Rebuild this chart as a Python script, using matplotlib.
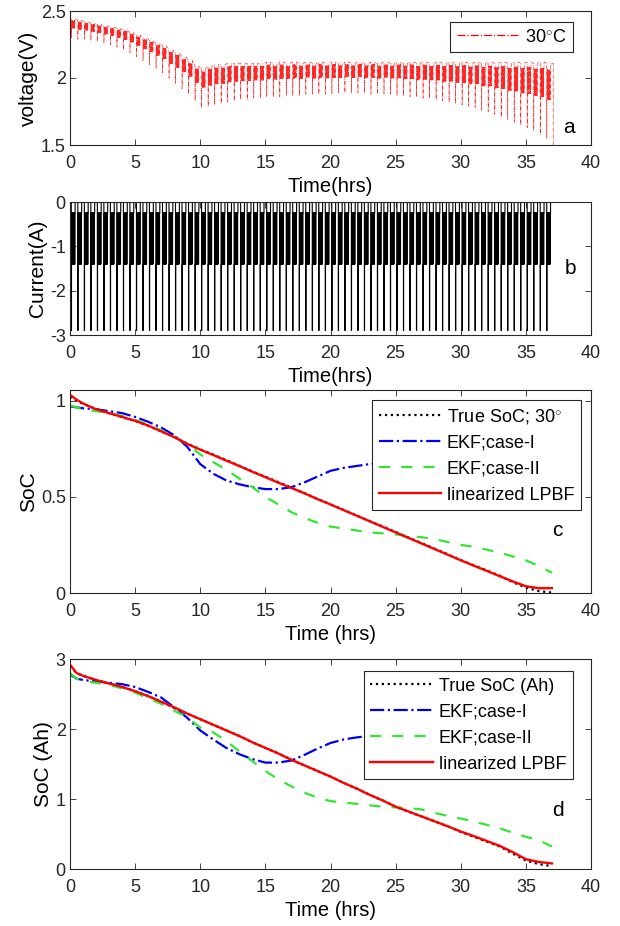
import numpy as np
import matplotlib
matplotlib.use("Agg")
import matplotlib.pyplot as plt
from matplotlib.lines import Line2D

plt.rcParams['font.family'] = ['Liberation Sans', 'DejaVu Sans']
plt.rcParams['mathtext.fontset'] = 'custom'
plt.rcParams['mathtext.rm'] = 'Liberation Sans'
plt.rcParams['axes.unicode_minus'] = False

# ---------------- data ----------------
# pulse discharge test: start time of each pulse (hrs)
pulse_start_hrs = [0.1, 0.6, 1.1, 1.6, 2.1, 2.6, 3.1, 3.6, 4.1, 4.6,
                   5.1, 5.6, 6.1, 6.6, 7.1, 7.6, 8.1, 8.6, 9.1, 9.6,
                   10.1, 10.6, 11.1, 11.6, 12.1, 12.6, 13.1, 13.6, 14.1, 14.6,
                   15.1, 15.6, 16.1, 16.6, 17.1, 17.6, 18.1, 18.6, 19.1, 19.6,
                   20.1, 20.6, 21.1, 21.6, 22.1, 22.6, 23.1, 23.6, 24.1, 24.6,
                   25.1, 25.6, 26.1, 26.6, 27.1, 27.6, 28.1, 28.6, 29.1, 29.6,
                   30.1, 30.6, 31.1, 31.6, 32.1, 32.6, 33.1, 33.6, 34.1, 34.6,
                   35.1, 35.6, 36.1, 36.6]
# rest (open-circuit) voltage before each pulse (V)
rest_voltage = [2.44, 2.43, 2.42, 2.41, 2.40, 2.39, 2.38, 2.37, 2.36, 2.34,
                2.32, 2.30, 2.28, 2.26, 2.24, 2.21, 2.19, 2.16, 2.13, 2.09,
                2.07, 2.09, 2.10, 2.10, 2.11, 2.11, 2.11, 2.11, 2.11, 2.11,
                2.12, 2.11, 2.12, 2.11, 2.12, 2.11, 2.12, 2.11, 2.12, 2.11,
                2.12, 2.11, 2.12, 2.11, 2.12, 2.11, 2.12, 2.11, 2.12, 2.11,
                2.12, 2.11, 2.12, 2.11, 2.12, 2.11, 2.12, 2.11, 2.12, 2.11,
                2.12, 2.11, 2.12, 2.11, 2.12, 2.11, 2.12, 2.11, 2.12, 2.11,
                2.12, 2.11, 2.12, 2.11]
# minimum voltage at the peak current of each pulse (V)
pulse_min_voltage = [2.30, 2.29, 2.29, 2.28, 2.27, 2.26, 2.25, 2.23, 2.21, 2.19,
                     2.16, 2.13, 2.10, 2.07, 2.04, 2.00, 1.96, 1.92, 1.88, 1.83,
                     1.78, 1.79, 1.80, 1.81, 1.82, 1.83, 1.84, 1.84, 1.85, 1.85,
                     1.86, 1.86, 1.86, 1.87, 1.87, 1.87, 1.88, 1.88, 1.88, 1.88,
                     1.88, 1.89, 1.89, 1.89, 1.89, 1.89, 1.88, 1.88, 1.88, 1.88,
                     1.87, 1.87, 1.86, 1.86, 1.85, 1.85, 1.84, 1.83, 1.82, 1.81,
                     1.80, 1.79, 1.78, 1.76, 1.75, 1.73, 1.71, 1.69, 1.67, 1.65,
                     1.63, 1.61, 1.58, 1.55]
end_time_hrs = 37.1
end_voltage = 1.5
# current levels of a pulse (A)
current_rest = 0.0
current_peak = -2.9
current_high = -1.4
current_low = -0.25

# SoC estimates, panel c (fraction)
soc_t = [0, 0.5, 1, 2, 3, 4, 5, 6, 7, 8, 9, 10, 11, 12, 13, 14, 15, 16, 17, 18,
         19, 20, 21, 22, 23, 24, 25, 26, 27, 28, 29, 30, 31, 32, 33, 34, 35, 36, 37]
soc_true = [1.02, 1.00, 0.983, 0.956, 0.934, 0.914, 0.894, 0.869, 0.841, 0.811, 0.777,
            0.746, 0.719, 0.691, 0.661, 0.632, 0.604, 0.576, 0.547, 0.519, 0.489, 0.461,
            0.432, 0.403, 0.374, 0.346, 0.317, 0.288, 0.259, 0.23, 0.201, 0.171,
            0.144, 0.117, 0.09, 0.056, 0.028, 0.01, 0.002]
soc_ekf1 = [0.97, 0.965, 0.96, 0.955, 0.945, 0.935, 0.915, 0.89, 0.86, 0.82, 0.76,
            0.67, 0.62, 0.585, 0.565, 0.55, 0.54, 0.54, 0.55, 0.575, 0.605, 0.635,
            0.65, 0.66, 0.67, 0.675, 0.68, 0.68, 0.68, 0.68, 0.68, 0.68,
            0.68, 0.68, 0.68, 0.68, 0.68, 0.68, 0.68]
soc_ekf2 = [0.975, 0.965, 0.955, 0.945, 0.935, 0.92, 0.9, 0.875, 0.845, 0.81, 0.775,
            0.72, 0.68, 0.64, 0.595, 0.55, 0.50, 0.46, 0.42, 0.39, 0.365, 0.345,
            0.335, 0.325, 0.315, 0.31, 0.305, 0.295, 0.29, 0.28, 0.265, 0.25,
            0.24, 0.225, 0.21, 0.19, 0.17, 0.14, 0.105]
soc_lpbf = [1.03, 1.005, 0.985, 0.955, 0.935, 0.915, 0.895, 0.87, 0.84, 0.81, 0.775,
            0.745, 0.717, 0.688, 0.66, 0.63, 0.602, 0.573, 0.546, 0.518, 0.488, 0.46,
            0.431, 0.402, 0.373, 0.344, 0.315, 0.286, 0.257, 0.228, 0.199, 0.17,
            0.142, 0.115, 0.087, 0.06, 0.035, 0.025, 0.025]

# SoC estimates, panel d (Ah)
ah_true = [2.9, 2.8, 2.76, 2.7, 2.65, 2.6, 2.54, 2.47, 2.39, 2.3, 2.22,
           2.14, 2.06, 1.98, 1.9, 1.81, 1.73, 1.65, 1.56, 1.48, 1.4, 1.32,
           1.23, 1.15, 1.06, 0.98, 0.89, 0.82, 0.75, 0.68, 0.61, 0.53,
           0.46, 0.39, 0.32, 0.22, 0.12, 0.07, 0.04]
ah_ekf1 = [2.78, 2.72, 2.7, 2.68, 2.66, 2.64, 2.6, 2.53, 2.45, 2.31, 2.16,
           1.98, 1.85, 1.73, 1.64, 1.57, 1.52, 1.52, 1.55, 1.63, 1.72, 1.8,
           1.85, 1.88, 1.9, 1.91, 1.92, 1.93, 1.93, 1.94, 1.94, 1.94,
           1.95, 1.95, 1.95, 1.95, 1.95, 1.95, 1.95]
ah_ekf2 = [2.8, 2.72, 2.69, 2.66, 2.63, 2.58, 2.52, 2.44, 2.36, 2.26, 2.17,
           2.02, 1.95, 1.83, 1.68, 1.54, 1.4, 1.28, 1.18, 1.09, 1.02, 0.97,
           0.95, 0.93, 0.91, 0.89, 0.88, 0.87, 0.85, 0.8, 0.76, 0.72,
           0.68, 0.63, 0.58, 0.52, 0.46, 0.41, 0.32]
ah_lpbf = [2.92, 2.8, 2.76, 2.7, 2.65, 2.6, 2.54, 2.47, 2.39, 2.31, 2.22,
           2.14, 2.06, 1.98, 1.9, 1.81, 1.73, 1.65, 1.56, 1.48, 1.4, 1.32,
           1.23, 1.15, 1.06, 0.98, 0.89, 0.82, 0.75, 0.68, 0.61, 0.535,
           0.47, 0.4, 0.33, 0.24, 0.14, 0.1, 0.08]

# ---------------- build pulse waveforms ----------------
spike_len = 0.015
osc_len = 0.02
n_osc = 14
t_cur, i_cur, v_out = [0.0], [current_rest], [rest_voltage[0]]
for t0, vr, vmin in zip(pulse_start_hrs, rest_voltage, pulse_min_voltage):
    R = (vr - vmin) / (-current_peak)
    seq = [(t0, current_rest), (t0, current_peak), (t0 + spike_len, current_peak)]
    tt = t0 + spike_len
    for k in range(n_osc):
        lvl = current_high if k % 2 == 0 else current_low
        seq.append((tt, lvl))
        tt += osc_len
        seq.append((tt, lvl))
    seq.append((tt, current_rest))
    for t, c in seq:
        t_cur.append(t)
        i_cur.append(c)
        v_out.append(vr + R * c)
t_cur.append(end_time_hrs)
i_cur.append(current_rest)
v_out.append(rest_voltage[-1])
t_v = t_cur + [end_time_hrs]
v_v = v_out + [end_voltage]

# ---------------- figure ----------------
fig = plt.figure(figsize=(6.2, 9.26), dpi=100)
L, W = 70 / 620, 521 / 620
def pos(top, bot):
    return [L, 1 - bot / 926, W, (bot - top) / 926]
axa = fig.add_axes(pos(11, 145))
axb = fig.add_axes(pos(202, 335))
axc = fig.add_axes(pos(390, 593))
axd = fig.add_axes(pos(659, 869))

FS_T = 13
FS_X = 14.5
FS_Y = 15
FS_LEG = 13
for ax in (axa, axb, axc, axd):
    ax.set_xlim(0, 40)
    ax.set_xticks(range(0, 41, 5))
    ax.tick_params(direction='in', top=True, right=True, length=4, width=0.6,
                   labelsize=FS_T, colors='#262626')
    ax.tick_params(axis='x', pad=7)
    ax.tick_params(axis='y', pad=3)
    for s in ax.spines.values():
        s.set_linewidth(0.8)
        s.set_color('#262626')

red = '#ff0000'
blue = '#0000ee'
green = '#33e633'

def make_legend(ax, handles, labels, anchor):
    leg = ax.legend(handles, labels, loc='upper right', bbox_to_anchor=anchor,
                    borderaxespad=0, fontsize=FS_LEG, handlelength=3.45,
                    handletextpad=0.33, fancybox=False, labelspacing=0.5,
                    edgecolor='#262626', framealpha=1, borderpad=0.37)
    leg.get_frame().set_linewidth(0.8)
    leg.set_zorder(5)
    return leg

# (a) voltage
axa.plot(t_v, v_v, color=red, linestyle='-.', linewidth=0.45, alpha=0.85)
axa.set_ylim(1.5, 2.5)
axa.set_yticks([1.5, 2, 2.5])
axa.set_yticklabels(['1.5', '2', '2.5'])
axa.set_xlabel('Time(hrs)', fontsize=FS_X, labelpad=4)
axa.set_ylabel('voltage(V)', fontsize=FS_Y, labelpad=2)
leg_line = Line2D([], [], color=red, linestyle='-.', linewidth=0.9)
make_legend(axa, [leg_line], [r'30$^{\circ}$C'], (0.965, 0.918))
axa.text(0.958, 0.13, 'a', transform=axa.transAxes, fontsize=FS_Y, ha='center', va='center')

# (b) current
axb.plot(t_cur, i_cur, color='black', linewidth=0.8)
axb.set_ylim(-3, 0)
axb.set_yticks([-3, -2, -1, 0])
axb.set_xlabel('Time(hrs)', fontsize=FS_X, labelpad=4)
axb.set_ylabel('Current(A)', fontsize=FS_Y, labelpad=2)
axb.text(0.96, 0.50, 'b', transform=axb.transAxes, fontsize=FS_Y, ha='center', va='center')

# (c) SoC fraction
l_true, = axc.plot(soc_t, soc_true, color='black', linestyle=':', linewidth=1.6)
l_e1, = axc.plot(soc_t, soc_ekf1, color=blue, linestyle='-.', linewidth=1.6)
l_e2, = axc.plot(soc_t, soc_ekf2, color=green, linestyle='--', linewidth=1.6, dashes=(5, 5))
l_lp, = axc.plot(soc_t, soc_lpbf, color=red, linestyle='-', linewidth=1.7)
axc.set_ylim(0, 1.055)
axc.set_yticks([0, 0.5, 1])
axc.set_yticklabels(['0', '0.5', '1'])
axc.set_xlabel('Time (hrs)', fontsize=FS_X, labelpad=4)
axc.set_ylabel('SoC', fontsize=FS_Y, labelpad=2)
make_legend(axc, [l_true, l_e1, l_e2, l_lp],
            [r'True SoC; 30$^{\circ}$', 'EKF;case-I', 'EKF;case-II', 'linearized LPBF'],
            (0.981, 0.951))
axc.text(0.936, 0.31, 'c', transform=axc.transAxes, fontsize=FS_Y, ha='center', va='center')

# (d) SoC Ah
d_true, = axd.plot(soc_t, ah_true, color='black', linestyle=':', linewidth=1.6)
d_e1, = axd.plot(soc_t, ah_ekf1, color=blue, linestyle='-.', linewidth=1.6)
d_e2, = axd.plot(soc_t, ah_ekf2, color=green, linestyle='--', linewidth=1.6, dashes=(5, 5))
d_lp, = axd.plot(soc_t, ah_lpbf, color=red, linestyle='-', linewidth=1.7)
axd.set_ylim(0, 3)
axd.set_yticks([0, 1, 2, 3])
axd.set_xlabel('Time (hrs)', fontsize=FS_X, labelpad=4)
axd.set_ylabel('SoC (Ah)', fontsize=FS_Y, labelpad=2)
make_legend(axd, [d_true, d_e1, d_e2, d_lp],
            ['True SoC (Ah)', 'EKF;case-I', 'EKF;case-II', 'linearized LPBF'],
            (0.965, 0.943))
axd.text(0.936, 0.28, 'd', transform=axd.transAxes, fontsize=FS_Y, ha='center', va='center')

fig.savefig('out.png', dpi=100)
